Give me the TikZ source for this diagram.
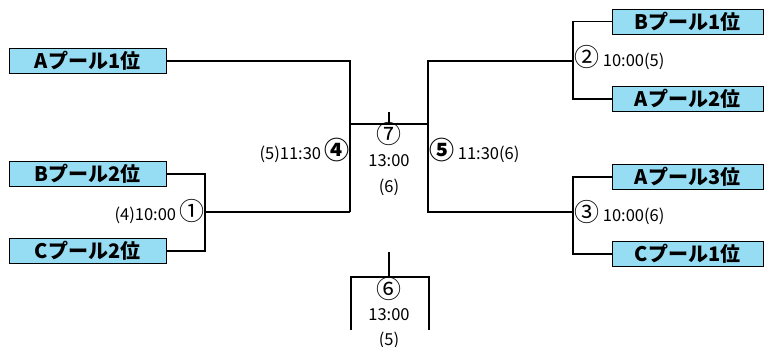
\documentclass[tikz,border=0pt]{standalone}
\usepackage{fontspec}
\setmainfont{Noto Sans CJK JP}
\definecolor{poolblue}{RGB}{150,220,242}

\tikzset{
	pool/.style={draw=black, fill=poolblue, minimum width=157pt, minimum height=25pt, inner sep=0pt, font=\fontsize{20}{20}\selectfont\bfseries},
	game/.style={inner sep=0pt, font=\fontsize{16.5}{16.5}\selectfont},
	bracket/.style={line width=1.4pt}
}
\newcommand{\cnum}[1]{{\fontsize{25}{25}\selectfont #1}}

\begin{document}
\begin{tikzpicture}[x=1pt, y=-1pt]
	\useasboundingbox (0,0) rectangle (765,347);

	\node[pool] (a1) at (87.5,61) {Aプール1位};
	\node[pool] (b2) at (87.5,174) {Bプール2位};
	\node[pool] (c2) at (87.5,251) {Cプール2位};
	\node[pool, minimum width=151pt] (b1) at (687.5,21.5) {Bプール1位};
	\node[pool, minimum width=151pt] (a2) at (687.5,99) {Aプール2位};
	\node[pool, minimum width=151pt] (a3) at (687.5,177) {Aプール3位};
	\node[pool, minimum width=151pt] (c1) at (687.5,254) {Cプール1位};

	\coordinate (g1) at (205,212);
	\coordinate (g4t) at (350,61);
	\coordinate (g4b) at (350,212);
	\coordinate (g5t) at (428,61);
	\coordinate (g5b) at (428,212);
	\coordinate (g2) at (573,61);
	\coordinate (g3) at (573,212);
	\coordinate (g7) at (389,124);
	\coordinate (g6) at (389,277);

	\draw[bracket] (b2.east) -| (g1) |- (c2.east);
	\draw[bracket] (g1) -- (g4b);
	\draw[bracket] (a1.east) -| (g4b);
	\draw[bracket] (b1.west) -| (g2) |- (a2.west);
	\draw[bracket] (a3.west) -| (g3) |- (c1.west);
	\draw[bracket] (g2) -- (g5t) -- (g5b) -- (g3);
	\draw[bracket] (g4t |- g7) -- (g5t |- g7);
	\draw[bracket] (g7) -- ++(0,-12);
	\draw[bracket] (g6) -- ++(0,-25);
	\draw[bracket] (351,330) -- (351,277) -- (429,277) -- (429,330);

	\node[game, anchor=east] (m1) at (205,212) {(4)10:00 \cnum{①}};
	\node[game, anchor=east] (m4) at (350,150) {(5)11:30 \cnum{\bfseries ④}};
	\node[game, anchor=west] (m5) at (429,150) {\cnum{\bfseries ⑤} 11:30(6)};
	\node[game, anchor=west] (m2) at (574,58) {\cnum{②} 10:00(5)};
	\node[game, anchor=west] (m3) at (574,213) {\cnum{③} 10:00(6)};

	\node[game] (m7) at (389,134) {\cnum{⑦}};
	\node[game] (t7) at (389,161) {13:00};
	\node[game] (r7) at (389,187) {(6)};
	\node[game] (m6) at (389,289) {\cnum{⑥}};
	\node[game] (t6) at (389,315) {13:00};
	\node[game] (r6) at (389,340) {(5)};
\end{tikzpicture}
\end{document}
